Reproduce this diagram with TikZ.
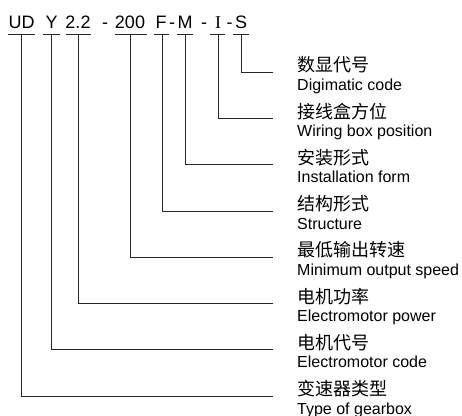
\documentclass[tikz,border=0pt]{standalone}
\usepackage{fontspec}
\setmainfont{Liberation Sans}
\newfontfamily\cjk{Noto Sans CJK SC}
\newfontfamily\serifI{Liberation Serif}
\begin{document}
\begin{tikzpicture}[x=1pt,y=-1pt,
  code/.style={anchor=base,inner sep=0pt,font=\fontsize{18}{18}\selectfont},
  zh/.style={anchor=base west,inner sep=0pt,font=\cjk\fontsize{18}{18}\selectfont},
  en/.style={anchor=base west,inner sep=0pt,font=\fontsize{16}{16}\selectfont},
  lead/.style={draw=black!85,line width=0.9pt},
  uline/.style={draw=black!85,line width=0.9pt}]
\useasboundingbox (0,0) rectangle (462,415);
% code parts
\node[code] (cUD) at (21.7,28) {UD};
\node[code] (cY)  at (51.7,28) {Y};
\node[code] (c22) at (78,28) {2.2};
\node[code] (d1)  at (105,28) {-};
\node[code] (c200) at (130,28) {200};
\node[code] (cF)  at (161,28) {F};
\node[code] (d2)  at (172,28) {-};
\node[code] (cM)  at (185,28) {M};
\node[code] (d3)  at (204,28) {-};
\node[code] (cI)  at (218,28) {\serifI I};
\node[code] (d4)  at (229.5,28) {-};
\node[code] (cS)  at (241,28) {S};
% underlines
\draw[uline] (8,34) -- (35,34);
\draw[uline] (43,34) -- (60,34);
\draw[uline] (66,34) -- (91,34);
\draw[uline] (115,34) -- (147,34);
\draw[uline] (154,34) -- (169,34);
\draw[uline] (177,34) -- (193,34);
\draw[uline] (210,34) -- (225,34);
\draw[uline] (233,34) -- (249,34);
% underline anchor points
\coordinate (uUD) at (21.7,34);
\coordinate (uY) at (51.7,34);
\coordinate (u22) at (78,34);
\coordinate (u200) at (130,34);
\coordinate (uF) at (162,34);
\coordinate (uM) at (185,34);
\coordinate (uI) at (218,34);
\coordinate (uS) at (241,34);
% line ends
\coordinate (eS) at (273,72.3);
\coordinate (eI) at (273,118.5);
\coordinate (eM) at (273,164.8);
\coordinate (eF) at (273,211);
\coordinate (e200) at (273,257.3);
\coordinate (e22) at (273,303.5);
\coordinate (eY) at (273,349.8);
\coordinate (eUD) at (273,396);
% leaders
\draw[lead] (uS) |- (eS);
\draw[lead] (uI) |- (eI);
\draw[lead] (uM) |- (eM);
\draw[lead] (uF) |- (eF);
\draw[lead] (u200) |- (e200);
\draw[lead] (u22) |- (e22);
\draw[lead] (uY) |- (eY);
\draw[lead] (uUD) |- (eUD);
% labels
\node[zh] (zS) at (297,71.5) {数显代号};
\node[en] (nS) at (297,90.3) {Digimatic code};
\node[zh] (zI) at (297,118) {接线盒方位};
\node[en] (nI) at (297,136.5) {Wiring box position};
\node[zh] (zM) at (297,164.3) {安装形式};
\node[en] (nM) at (297,182.8) {Installation form};
\node[zh] (zF) at (297,210.5) {结构形式};
\node[en] (nF) at (297,229) {Structure};
\node[zh] (z200) at (297,256.8) {最低输出转速};
\node[en] (n200) at (297,275.3) {Minimum output speed};
\node[zh] (z22) at (297,303) {电机功率};
\node[en] (n22) at (297,321.5) {Electromotor power};
\node[zh] (zY) at (297,349.3) {电机代号};
\node[en] (nY) at (297,367.8) {Electromotor code};
\node[zh] (zUD) at (297,395.5) {变速器类型};
\node[en] (nUD) at (297,414) {Type of gearbox};
\end{tikzpicture}
\end{document}
